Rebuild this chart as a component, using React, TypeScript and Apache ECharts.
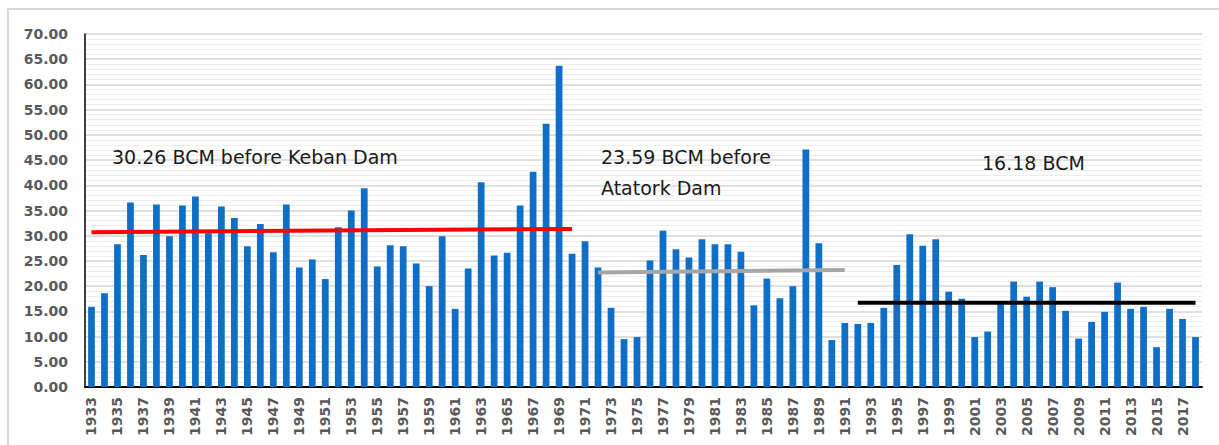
import React, { useEffect, useRef } from "react";
import * as echarts from "echarts";

const years: string[] = [];
for (let y = 1933; y <= 2018; y++) years.push(String(y));

const flows: number[] = [
  15.9, 18.6, 28.3, 36.6, 26.2, 36.2, 29.9, 36.0, 37.8, 30.5,
  35.8, 33.5, 27.9, 32.3, 26.7, 36.2, 23.7, 25.3, 21.4, 31.7,
  35.0, 39.4, 23.9, 28.1, 27.9, 24.5, 20.0, 29.9, 15.5, 23.5,
  40.6, 26.1, 26.6, 36.0, 42.7, 52.2, 63.7, 26.4, 28.9, 23.7,
  15.7, 9.5, 9.9, 25.1, 31.0, 27.3, 25.7, 29.3, 28.3, 28.3,
  26.8, 16.2, 21.5, 17.6, 20.0, 47.1, 28.5, 9.3, 12.7, 12.5,
  12.7, 15.7, 24.2, 30.3, 28.0, 29.3, 18.9, 17.5, 9.9, 11.0,
  16.5, 20.9, 17.9, 20.9, 19.8, 15.1, 9.6, 12.9, 14.9, 20.7,
  15.5, 15.9, 7.9, 15.5, 13.5, 9.9,
];

const preKebanLine: [string, number][] = [["1933", 30.7], ["1970", 31.35]];
const preAtaturkLine: [string, number][] = [["1972", 22.7], ["1991", 23.2]];
const postDamLine: [string, number][] = [["1992", 16.7], ["2018", 16.7]];

const annotations = [
  { text: "30.26 BCM before Keban Dam", x: 112, y: 157 },
  { text: "23.59 BCM before", x: 601, y: 157 },
  { text: "Atatork Dam", x: 601, y: 188 },
  { text: "16.18 BCM", x: 982, y: 163 },
];

export default function App() {
  const ref = useRef<HTMLDivElement>(null);
  useEffect(() => {
    if (!ref.current) return;
    const chart = echarts.init(ref.current, undefined, { renderer: "svg" });
    const labelColor = "#595959";
    const lineSeries = (data: [string, number][], color: string) => ({
      type: "line",
      data,
      showSymbol: false,
      symbol: "none",
      lineStyle: { color, width: 4 },
      z: 5,
      silent: true,
    });
    chart.setOption({
      animation: false,
      backgroundColor: "#ffffff",
      grid: { left: 85, right: 17, top: 34, bottom: 58, containLabel: false },
      xAxis: {
        type: "category",
        data: years,
        boundaryGap: true,
        axisLine: { show: true, lineStyle: { color: "#000000", width: 2 } },
        axisTick: { show: false },
        axisLabel: {
          interval: 1,
          rotate: 90,
          margin: 10,
          color: labelColor,
          fontFamily: "DejaVu Sans",
          fontWeight: "bold",
          fontSize: 14,
        },
        splitLine: { show: false },
      },
      yAxis: {
        type: "value",
        min: 0,
        max: 70,
        interval: 5,
        axisLine: { show: true, lineStyle: { color: "#000000", width: 1.5 } },
        axisTick: { show: false },
        axisLabel: {
          margin: 17,
          color: labelColor,
          fontFamily: "DejaVu Sans",
          fontWeight: "bold",
          fontSize: 14,
          formatter: (v: number) => v.toFixed(2),
        },
        splitLine: { show: true, lineStyle: { color: "#d6d6d6", width: 1.5 } },
        minorTick: { show: false, splitNumber: 5 },
        minorSplitLine: { show: true, lineStyle: { color: "#eeeeee", width: 1 } },
      },
      series: [
        {
          type: "bar",
          data: flows,
          barWidth: "52%",
          itemStyle: { color: "#0f6fc6" },
          z: 2,
        },
        lineSeries(preKebanLine, "#ff0000"),
        lineSeries(preAtaturkLine, "#a6a6a6"),
        lineSeries(postDamLine, "#000000"),
      ],
      graphic: [
        {
          type: "rect",
          shape: { x: 8, y: 9, width: 1230, height: 440 },
          style: { fill: "none", stroke: "#d9d9d9", lineWidth: 2 },
          silent: true,
          z: 0,
        },
        ...annotations.map((a) => ({
          type: "text",
          x: a.x,
          y: a.y,
          style: {
            text: a.text,
            fill: "#1a1a1a",
            fontFamily: "DejaVu Sans",
            fontSize: 19,
            textVerticalAlign: "middle",
            verticalAlign: "middle",
          },
          z: 10,
        })),
      ],
    });
    return () => chart.dispose();
  }, []);
  return (
    <div
      ref={ref}
      style={{ position: "fixed", left: 0, top: 0, width: 1219, height: 445 }}
    />
  );
}
